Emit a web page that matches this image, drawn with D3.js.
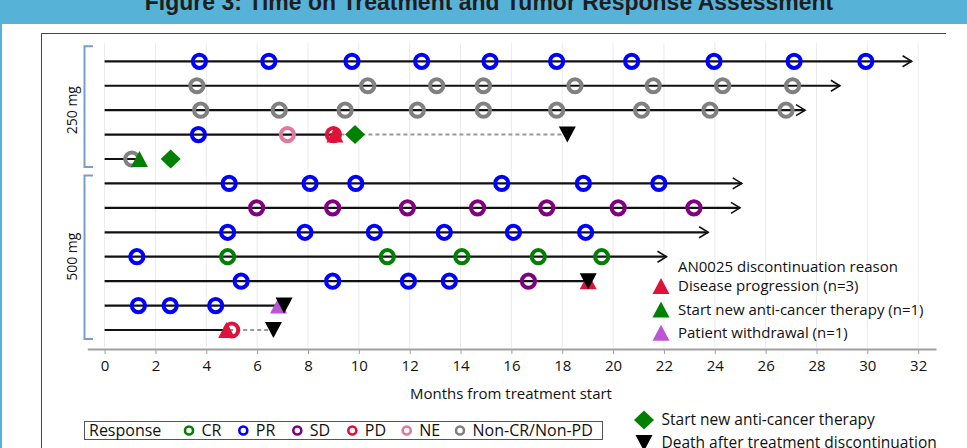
<!DOCTYPE html>
<html>
<head>
<meta charset="utf-8">
<script src="https://cdn.jsdelivr.net/npm/d3@7"></script>
<style>
  html, body { margin: 0; padding: 0; background: #fff; }
  svg { display: block; font-family: "Open Sans", "Noto Sans", sans-serif; }
</style>
</head>
<body>
<script>
//DATA
const title = "Figure 3: Time on Treatment and Tumor Response Assessment";
const doseGroups = ["250 mg", "500 mg"];
const rowDose = ["250 mg", "250 mg", "250 mg", "250 mg", "250 mg",
                 "500 mg", "500 mg", "500 mg", "500 mg", "500 mg", "500 mg", "500 mg"];
const rowIds = d3.range(1, 13);
// months on treatment (arrow tip for ongoing patients)
const treatEnd = [31.74, 28.92, 27.55, 9.0, 1.3, 25.06, 24.99, 23.74, 22.1, 19.0, 6.9, 4.9];
const ongoing  = [true, true, true, false, false, true, true, true, true, false, false, false];

const responses = ["CR", "PR", "SD", "PD", "NE", "Non-CR/Non-PD"];
const responseColors = ["#008000", "#0000ff", "#800080", "#dc143c", "#e0799b", "#808080"];

// [row, month, response]
const assessments = [
  [1, 3.73, "PR"], [1, 6.46, "PR"], [1, 9.73, "PR"], [1, 12.47, "PR"], [1, 15.16, "PR"],
  [1, 17.78, "PR"], [1, 20.73, "PR"], [1, 23.97, "PR"], [1, 27.12, "PR"], [1, 29.94, "PR"],
  [2, 3.63, "Non-CR/Non-PD"], [2, 10.35, "Non-CR/Non-PD"], [2, 13.06, "Non-CR/Non-PD"], [2, 14.9, "Non-CR/Non-PD"],
  [2, 18.5, "Non-CR/Non-PD"], [2, 21.58, "Non-CR/Non-PD"], [2, 24.31, "Non-CR/Non-PD"], [2, 27.06, "Non-CR/Non-PD"],
  [3, 3.78, "Non-CR/Non-PD"], [3, 6.87, "Non-CR/Non-PD"], [3, 9.46, "Non-CR/Non-PD"], [3, 12.3, "Non-CR/Non-PD"],
  [3, 14.9, "Non-CR/Non-PD"], [3, 17.78, "Non-CR/Non-PD"], [3, 21.12, "Non-CR/Non-PD"], [3, 23.81, "Non-CR/Non-PD"],
  [3, 26.8, "Non-CR/Non-PD"],
  [4, 3.69, "PR"], [4, 7.19, "NE"], [4, 9.0, "PD"],
  [5, 1.07, "Non-CR/Non-PD"],
  [6, 4.9, "PR"], [6, 8.08, "PR"], [6, 9.88, "PR"], [6, 15.62, "PR"], [6, 18.83, "PR"], [6, 21.8, "PR"],
  [7, 5.98, "SD"], [7, 8.97, "SD"], [7, 11.91, "SD"], [7, 14.67, "SD"], [7, 17.39, "SD"], [7, 20.2, "SD"], [7, 23.18, "SD"],
  [8, 4.84, "PR"], [8, 7.88, "PR"], [8, 10.61, "PR"], [8, 13.36, "PR"], [8, 16.08, "PR"], [8, 18.92, "PR"],
  [9, 1.27, "PR"], [9, 4.84, "CR"], [9, 11.12, "CR"], [9, 14.05, "CR"], [9, 17.06, "CR"], [9, 19.55, "CR"],
  [10, 5.37, "PR"], [10, 8.97, "PR"], [10, 11.95, "PR"], [10, 13.56, "PR"], [10, 16.67, "SD"],
  [11, 1.33, "PR"], [11, 2.58, "PR"], [11, 4.37, "PR"],
  [12, 5.0, "PD"]
];

const reasons = ["Disease progression", "Start new anti-cancer therapy", "Patient withdrawal"];
const reasonCounts = [3, 1, 1];
const reasonColors = ["#dc143c", "#008000", "#ba55d3"];
// [row, month, reason]
const discontinuations = [
  [4, 9.06, "Disease progression"],
  [5, 1.37, "Start new anti-cancer therapy"],
  [10, 19.02, "Disease progression"],
  [11, 6.84, "Patient withdrawal"],
  [12, 4.8, "Disease progression"]
];
// [row, month]
const newTherapy = [[4, 9.85], [5, 2.6]];
const deaths = [[4, 18.2], [10, 19.02], [11, 7.06], [12, 6.64]];

const xTicks = d3.range(0, 33, 2);

//USEFUL VARIABLES
const svgwidth = 967;
const svgheight = 448;
const txt = "15px";
const legTxt = "16px";

const svg = d3.select("body").append("svg")
  .attr("width", svgwidth)
  .attr("height", svgheight);

//BLUE HEADER BAND AND TITLE
svg.append("rect").attr("x", 0).attr("y", 0).attr("width", svgwidth).attr("height", 24).attr("fill", "#57b2d8");
svg.append("rect").attr("x", 0).attr("y", 0).attr("width", 2).attr("height", svgheight).attr("fill", "#57b2d8");
svg.append("text")
  .attr("x", 489).attr("y", 10)
  .attr("text-anchor", "middle")
  .style("font-family", "Liberation Sans, Arial, sans-serif")
  .style("font-size", "23px").style("font-weight", "bold").attr("fill", "#1e1e1e")
  .text(title);

//FRAME (TOP + LEFT)
svg.append("line").attr("x1", 41.5).attr("x2", 946).attr("y1", 33.5).attr("y2", 33.5).attr("stroke", "#444");
svg.append("line").attr("x1", 41.5).attr("x2", 41.5).attr("y1", 33.5).attr("y2", svgheight).attr("stroke", "#444");

//DEFINING SCALES
const X = d3.scaleLinear().domain([-0.68, 32.7]).range([87.3, 936]);
const Y = d3.scalePoint().domain(rowIds).range([61.3, 330]);
const respColor = d3.scaleOrdinal().domain(responses).range(responseColors);
const reasonColor = d3.scaleOrdinal().domain(reasons).range(reasonColors);

//GRIDLINES
svg.append("g").selectAll("line").data(xTicks).enter().append("line")
  .attr("x1", d => X(d)).attr("x2", d => X(d))
  .attr("y1", 43).attr("y2", 348)
  .attr("stroke", "#ebebeb").attr("stroke-width", 1);

//X AXIS
const xaxis = svg.append("g")
  .attr("transform", "translate(0,349)")
  .call(d3.axisBottom(X).tickValues(xTicks).tickSize(5).tickSizeOuter(0).tickPadding(6));
xaxis.select(".domain").attr("stroke", "#a0a0a0").attr("stroke-width", 2);
xaxis.selectAll(".tick line").attr("stroke", "#a0a0a0");
xaxis.selectAll(".tick text").style("font-size", txt).style("font-family", "Open Sans, sans-serif").attr("fill", "#111");

svg.append("text")
  .attr("x", 511).attr("y", 393.5)
  .attr("text-anchor", "middle").attr("dy", "0.35em")
  .style("font-size", txt).attr("fill", "#111")
  .text("Months from treatment start");

//DOSE GROUP BRACKETS
doseGroups.forEach((g, gi) => {
  const ids = rowIds.filter((d, i) => rowDose[i] === g);
  const top = Y(ids[0]) - (gi === 0 ? 15 : 8);
  const bot = Y(ids[ids.length - 1]) + (gi === 0 ? 8 : 9);
  svg.append("path")
    .attr("d", `M93,${top}H84.5V${bot}H93`)
    .attr("fill", "none").attr("stroke", "#7b9cc9").attr("stroke-width", 2);
  const mid = (Y(ids[0]) + Y(ids[ids.length - 1])) / 2;
  svg.append("text")
    .attr("transform", `translate(72.5,${mid}) rotate(-90)`)
    .attr("text-anchor", "middle").attr("dy", "0.35em")
    .style("font-size", "14px").attr("fill", "#111")
    .text(g);
});

//SHAPES
const triUp = (w, h) => `M0,${-h / 2}L${w / 2},${h / 2}L${-w / 2},${h / 2}Z`;
const triDown = (w, h) => `M${-w / 2},${-h / 2}L${w / 2},${-h / 2}L0,${h / 2}Z`;
const diamond = (w, h) => `M0,${-h / 2}L${w / 2},0L0,${h / 2}L${-w / 2},0Z`;

//TREATMENT LINES
const bars = svg.append("g");
rowIds.forEach((r, i) => {
  bars.append("line")
    .attr("x1", X(0)).attr("x2", X(treatEnd[i]))
    .attr("y1", Y(r)).attr("y2", Y(r))
    .attr("stroke", "#111").attr("stroke-width", 2.2);
  if (ongoing[i]) {
    const tx = X(treatEnd[i]);
    bars.append("path")
      .attr("d", `M${tx - 9},${Y(r) - 5.5}L${tx},${Y(r)}L${tx - 9},${Y(r) + 5.5}`)
      .attr("fill", "none").attr("stroke", "#111").attr("stroke-width", 1.6);
  }
});

//DASHED FOLLOW-UP TO DEATH
deaths.forEach(d => {
  const end = treatEnd[d[0] - 1];
  if (d[1] - end > 0.3) {
    bars.append("line")
      .attr("x1", X(end)).attr("x2", X(d[1]))
      .attr("y1", Y(d[0])).attr("y2", Y(d[0]))
      .attr("stroke", "#999").attr("stroke-width", 2).attr("stroke-dasharray", "4,3");
  }
});

//RESPONSE CIRCLES
svg.append("g").selectAll("circle").data(assessments).enter().append("circle")
  .attr("cx", d => X(d[1])).attr("cy", d => Y(d[0]))
  .attr("r", 6.6)
  .attr("fill", "none")
  .attr("stroke", d => respColor(d[2]))
  .attr("stroke-width", 4);

//DISCONTINUATION TRIANGLES
svg.append("g").selectAll("path").data(discontinuations).enter().append("path")
  .attr("transform", d => `translate(${X(d[1])},${Y(d[0])})`)
  .attr("d", triUp(17, 16))
  .attr("fill", d => reasonColor(d[2]));

//NEW THERAPY DIAMONDS
svg.append("g").selectAll("path").data(newTherapy).enter().append("path")
  .attr("transform", d => `translate(${X(d[1])},${Y(d[0])})`)
  .attr("d", diamond(20, 19))
  .attr("fill", "#008000");

//DEATHS
svg.append("g").selectAll("path").data(deaths).enter().append("path")
  .attr("transform", d => `translate(${X(d[1])},${Y(d[0])})`)
  .attr("d", triDown(17, 16))
  .attr("fill", "#000");

//LEGEND INSIDE PLOT
const leg = svg.append("g").style("font-size", txt).attr("fill", "#111");
leg.append("text").attr("x", 678).attr("y", 266.5).attr("dy", "0.35em").text("AN0025 discontinuation reason");
reasons.forEach((r, i) => {
  const ly = 286 + i * 23.4;
  leg.append("path").attr("transform", `translate(661,${ly})`).attr("d", triUp(17, 16)).attr("fill", reasonColors[i]);
  leg.append("text").attr("x", 678).attr("y", ly).attr("dy", "0.35em").text(`${r} (n=${reasonCounts[i]})`);
});

//RESPONSE LEGEND BOX
const rleg = svg.append("g").style("font-size", legTxt).attr("fill", "#111");
rleg.append("rect").attr("x", 84.5).attr("y", 421.5).attr("width", 518).attr("height", 18)
  .attr("fill", "#fff").attr("stroke", "#555");
rleg.append("text").attr("x", 89).attr("y", 430.5).attr("dy", "0.35em").text("Response");
const legX = [189, 243.3, 297.3, 352.3, 406.7, 460];
responses.forEach((r, i) => {
  rleg.append("circle").attr("cx", legX[i]).attr("cy", 430.5).attr("r", 4)
    .attr("fill", "none").attr("stroke", responseColors[i]).attr("stroke-width", 2.6);
  rleg.append("text").attr("x", legX[i] + 12.5).attr("y", 430.5).attr("dy", "0.35em").text(r);
});

//EVENT LEGEND
const eleg = svg.append("g").style("font-size", "15.5px").attr("fill", "#111");
eleg.append("path").attr("transform", "translate(644,420)").attr("d", diamond(20, 19)).attr("fill", "#008000");
eleg.append("text").attr("x", 661.5).attr("y", 420).attr("dy", "0.35em").text("Start new anti-cancer therapy");
eleg.append("path").attr("transform", "translate(644,443)").attr("d", triDown(17, 16)).attr("fill", "#000");
eleg.append("text").attr("x", 661.5).attr("y", 443).attr("dy", "0.35em").text("Death after treatment discontinuation");
</script>
</body>
</html>
